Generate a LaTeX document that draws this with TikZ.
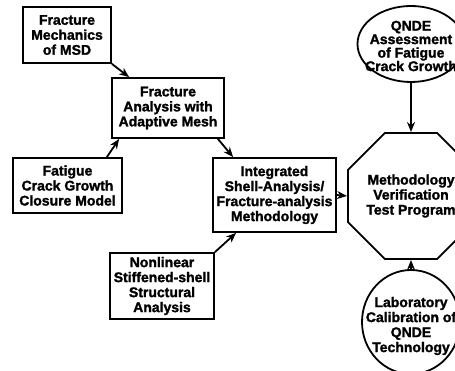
\documentclass[tikz,border=0pt]{standalone}
\usepackage{fontspec}
\setmainfont{Liberation Sans}[BoldFeatures={FakeBold=1.6}]
\usetikzlibrary{shapes.geometric,arrows.meta}
\tikzset{
  txt/.style={align=center, inner sep=0pt, font=\fontsize{14}{15}\selectfont\bfseries, text=black},
  box/.style={txt, draw, line width=1.8pt},
  arr/.style={line width=1.8pt, -{Stealth[length=10pt,width=8pt]}},
}
\begin{document}
\begin{tikzpicture}[x=1pt,y=-1pt]
\useasboundingbox (0,0) rectangle (455,371);
\node[box, minimum width=88, minimum height=56] (A) at (67,35) {Fracture\\Mechanics\\of MSD};
\node[box, minimum width=112, minimum height=60] (B) at (168,108) {Fracture\\Analysis with\\Adaptive Mesh};
\node[box, minimum width=109, minimum height=55] (C) at (67.5,185.5) {Fatigue\\Crack Growth\\Closure Model};
\node[box, minimum width=123, minimum height=74] (D) at (274.5,195) {Integrated\\Shell-Analysis/\\Fracture-analysis\\Methodology};
\node[box, minimum width=104, minimum height=66] (E) at (162,286) {Nonlinear\\Stiffened-shell\\Structural\\Analysis};
\node[box, regular polygon, regular polygon sides=8, minimum size=125.6] (O) at (411,196) {Methodology\\Verification\\Test Program};
\node[box, ellipse, minimum width=107, minimum height=76] (T) at (411,44) {};
\node[txt, font=\fontsize{14}{13.5}\selectfont\bfseries] (Tt) at (411,46) {QNDE\\Assessment\\of Fatigue\\Crack Growth};
\node[box, ellipse, minimum width=98, minimum height=104] (L) at (411,322) {};
\node[txt] (Lt) at (411,326) {Laboratory\\Calibration of\\QNDE\\Technology};
\draw[arr] (A.south east) -- ([xshift=18]B.north west);
\draw[arr] ([xshift=-16]C.north east) -- ([xshift=8]B.south west);
\draw[arr] ([xshift=-7]B.south east) -- ([xshift=21]D.north west);
\draw[arr] (E.north east) -- ([xshift=24]D.south west);
\draw[arr] (D.east) -- (O.west);
\draw[arr] (T.south) -- (O.north);
\draw[arr] (L.north) -- (O.south);
\end{tikzpicture}
\end{document}
